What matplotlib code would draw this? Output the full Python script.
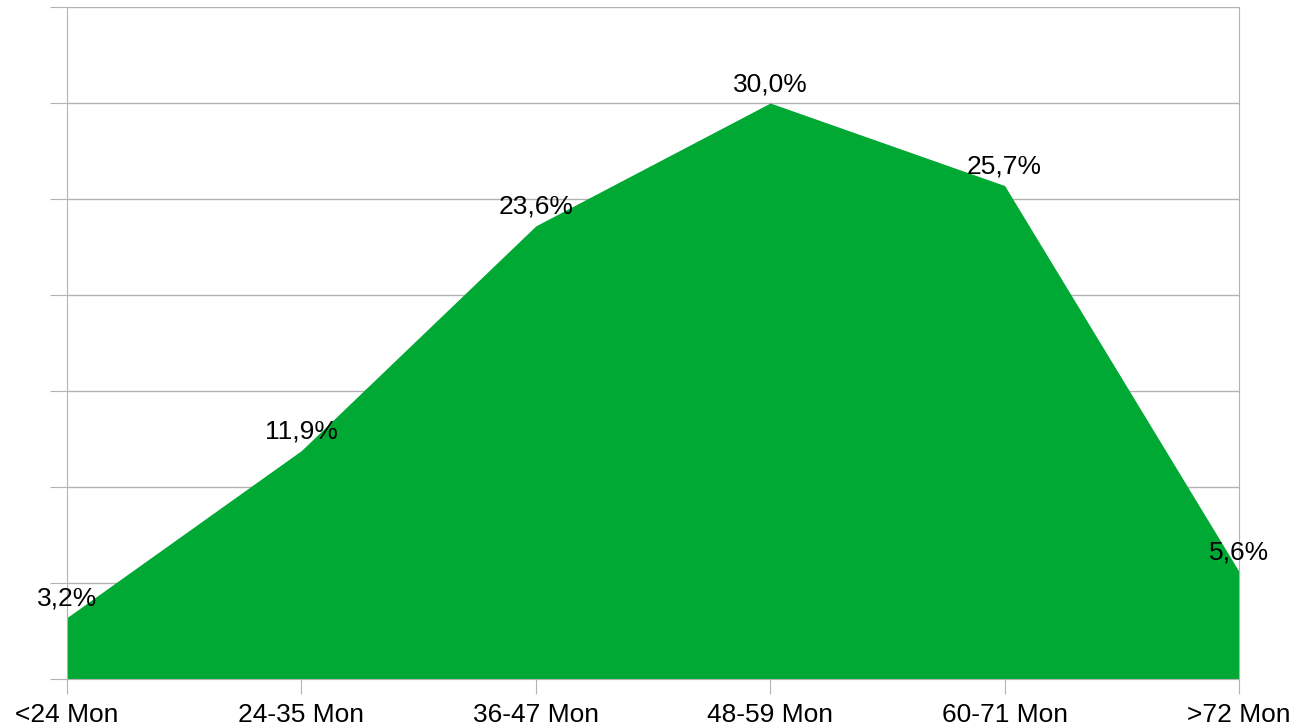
import matplotlib
matplotlib.use("Agg")
import matplotlib.pyplot as plt
import numpy as np

plt.rcParams['font.family'] = ['Liberation Sans', 'DejaVu Sans']

# age groups and their share in percent
categories = ['<24 Mon', '24-35 Mon', '36-47 Mon', '48-59 Mon', '60-71 Mon', '>72 Mon']
shares = [3.2, 11.9, 23.6, 30.0, 25.7, 5.6]
labels = ['3,2%', '11,9%', '23,6%', '30,0%', '25,7%', '5,6%']

fig = plt.figure(figsize=(12.96, 7.28), dpi=100)
ax = fig.add_axes([67 / 1296, 49 / 728, (1239 - 67) / 1296, (679 - 7) / 728])

x = np.arange(len(categories))
ax.fill_between(x, 0, shares, color='#00a933', linewidth=0, zorder=2)

ax.set_xlim(0, len(categories) - 1)
ax.set_ylim(0, 35)
ax.set_yticks(np.arange(0, 36, 5))
ax.set_yticklabels([])
ax.grid(axis='y', color='#b3b3b3', linewidth=1, zorder=1)
ax.set_axisbelow(True)

ax.set_xticks(x)
ax.set_xticklabels(categories, fontsize=19)
ax.tick_params(axis='x', length=11, color='#b3b3b3', pad=6)
ax.tick_params(axis='y', length=12, color='#b3b3b3')

for side in ['left', 'right', 'top', 'bottom']:
    ax.spines[side].set_color('#b3b3b3')
ax.spines['top'].set_visible(False)

for xi, v, lab in zip(x, shares, labels):
    ax.annotate(lab, (xi, v), xytext=(0, 5), textcoords='offset points',
                ha='center', va='bottom', fontsize=19, zorder=3)

fig.savefig('out.png', dpi=100)
